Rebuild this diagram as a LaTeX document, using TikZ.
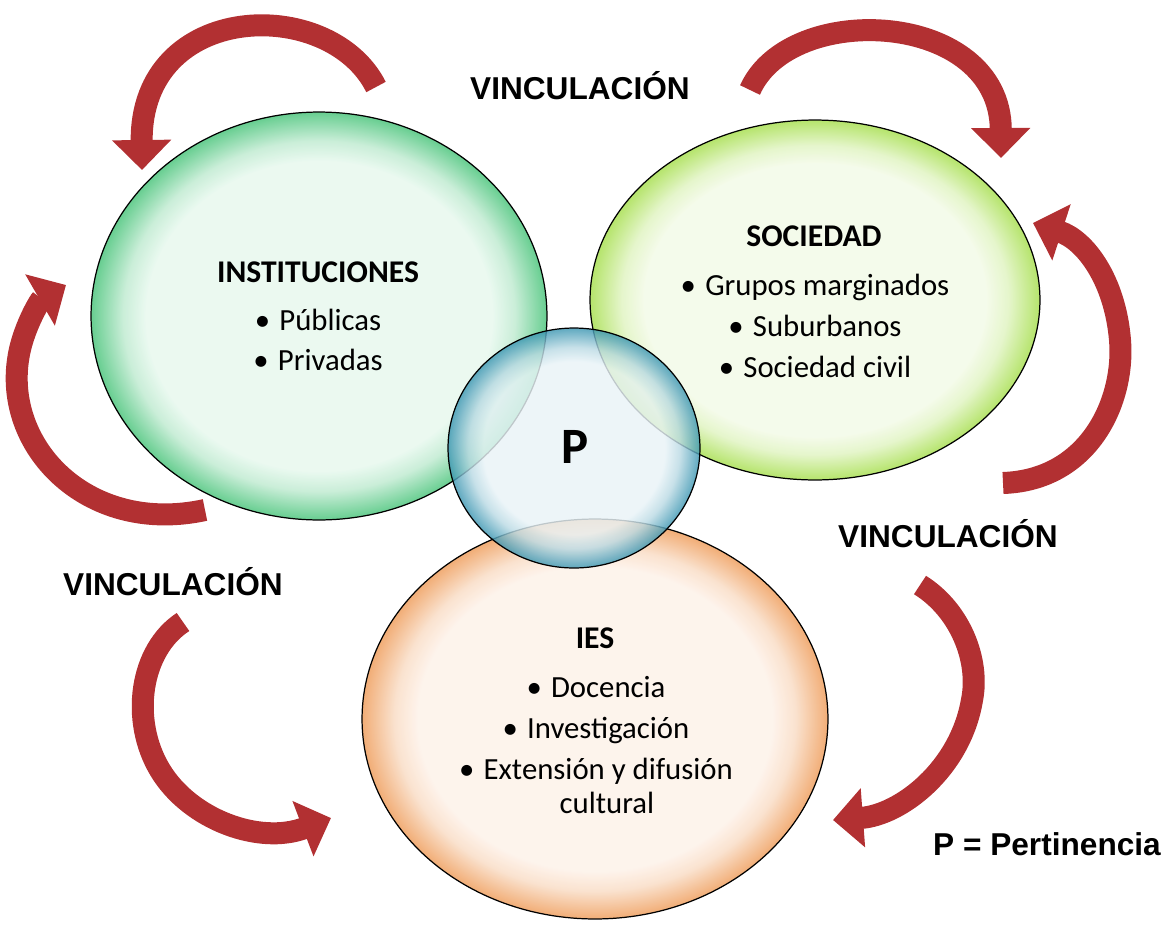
\documentclass[tikz,border=0pt]{standalone}
\usepackage{fontspec}
\setmainfont{Carlito}
\newfontfamily\arialfont{Liberation Sans}
\usetikzlibrary{arrows.meta}
\usetikzlibrary{positioning}
\usetikzlibrary{shapes.geometric}
\definecolor{minst}{RGB}{230,248,237}
\definecolor{rinst}{RGB}{70,195,120}
\definecolor{msoc}{RGB}{242,250,230}
\definecolor{rsoc}{RGB}{165,222,75}
\definecolor{mper}{RGB}{233,243,247}
\definecolor{rper}{RGB}{60,150,178}
\definecolor{mies}{RGB}{253,241,232}
\definecolor{ries}{RGB}{238,155,88}
\definecolor{mred}{RGB}{178,48,50}
\pgfdeclareradialshading{shinst}{\pgfpoint{0bp}{0bp}}{color(0bp)=(minst); color(19bp)=(minst); color(21.5bp)=(rinst!35!white); color(25bp)=(rinst); color(50bp)=(rinst)}
\pgfdeclareradialshading{shsoc}{\pgfpoint{0bp}{0bp}}{color(0bp)=(msoc); color(19bp)=(msoc); color(21.5bp)=(rsoc!35!white); color(25bp)=(rsoc); color(50bp)=(rsoc)}
\pgfdeclareradialshading{shper}{\pgfpoint{0bp}{0bp}}{color(0bp)=(mper); color(18bp)=(mper); color(21bp)=(rper!35!white); color(25bp)=(rper); color(50bp)=(rper)}
\pgfdeclareradialshading{shies}{\pgfpoint{0bp}{0bp}}{color(0bp)=(mies); color(19bp)=(mies); color(21.5bp)=(ries!35!white); color(25bp)=(ries); color(50bp)=(ries)}
\tikzset{
  bubble/.style = {ellipse, draw = black, line width = 0.7pt, fill opacity = 0.82, inner sep = 0, outer sep = 0},
  titulo/.style = {anchor = base, font = \fontsize{18}{21}\selectfont\bfseries},
  punto/.style = {anchor = base, font = \fontsize{17.5}{20}\selectfont},
  vinc/.style = {anchor = base, font = \arialfont\fontsize{18}{22}\selectfont\bfseries},
  flecha/.style = {mred, line width = 0.44cm, -{Triangle[length = 0.6cm, width = 1.15cm]}}
}
\newcommand{\bul}[1]{\textbullet\hspace{0.3em}#1}

\begin{document}
\begin{tikzpicture}[x = 0.02cm, y = -0.02cm]
  \useasboundingbox (0, 0) rectangle (1174, 924);

  \node [bubble, shading = shinst, minimum width = 9.12cm, minimum height = 8.16cm] (inst) at (319, 316) {};
  \node [bubble, shading = shsoc, minimum width = 9cm, minimum height = 7.2cm] (soc) at (815, 300) {};
  \node [bubble, shading = shies, minimum width = 9.32cm, minimum height = 8cm] (ies) at (595, 719) {};
  \node [bubble, shading = shper, minimum width = 5.04cm, minimum height = 4.8cm] (per) at (574, 448) {};

  \node [titulo] (instT) at (318, 282) {INSTITUCIONES};
  \foreach \t [count = \i] in {Públicas, Privadas}
    \node [punto] (inst\i) at (318, 290 + 40*\i) {\bul{\t}};

  \node [titulo] (socT) at (814, 246) {SOCIEDAD};
  \foreach \t [count = \i] in {Grupos marginados, Suburbanos, Sociedad civil}
    \node [punto] (soc\i) at (815, 254 + 41*\i) {\bul{\t}};

  \node [titulo] (iesT) at (595, 648) {IES};
  \foreach \t [count = \i] in {Docencia, Investigación, Extensión y difusión}
    \node [punto] (ies\i) at (596, 656 + 41*\i) {\bul{\t}};
  \node [punto] (ies4) at (607, 813) {cultural};

  \node [anchor = base, font = \fontsize{29}{32}\selectfont\bfseries] (pT) at (575, 463) {P};

  \node [vinc] (v1) at (580, 99) {VINCULACIÓN};
  \node [vinc] (v2) at (948, 547) {VINCULACIÓN};
  \node [vinc] (v3) at (173, 595) {VINCULACIÓN};
  \node [vinc] (leyenda) at (1047, 855) {P = Pertinencia};

  \coordinate (a1) at (376, 87);   \coordinate (b1) at (142, 170);
  \coordinate (a2) at (750, 90);   \coordinate (b2) at (1001, 158);
  \coordinate (a3) at (205, 510);  \coordinate (b3) at (66, 285);
  \coordinate (a4) at (1003, 483); \coordinate (b4) at (1033, 223);
  \coordinate (a5) at (183, 622);  \coordinate (b5) at (331, 818);
  \coordinate (a6) at (920, 585);  \coordinate (b6) at (833, 820);

  \draw [flecha] (a1) .. controls (330, -5) and (140, 0) .. (b1);
  \draw [flecha] (a2) .. controls (790, 0) and (1000, 10) .. (b2);
  \draw [flecha] (a3) .. controls (90, 535) and (5, 450) .. (18, 360) .. controls (22, 330) and (40, 300) .. (b3);
  \draw [flecha] (a4) .. controls (1090, 480) and (1125, 400) .. (1120, 340) .. controls (1115, 280) and (1085, 240) .. (b4);
  \draw [flecha] (a5) .. controls (140, 650) and (130, 720) .. (160, 770) .. controls (190, 820) and (260, 845) .. (b5);
  \draw [flecha] (a6) .. controls (960, 610) and (980, 660) .. (972, 700) .. controls (960, 770) and (900, 815) .. (b6);
\end{tikzpicture}
\end{document}
